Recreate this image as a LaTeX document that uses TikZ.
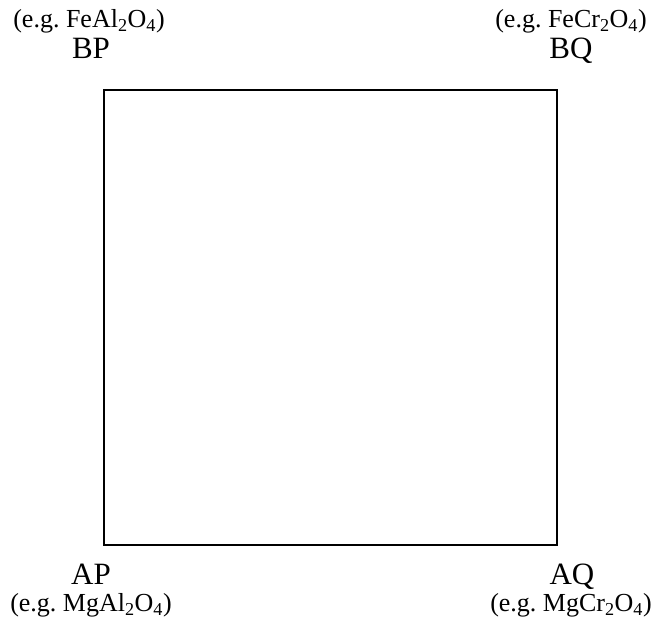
\documentclass[tikz,border=0pt]{standalone}
\usepackage{fontspec}
\setmainfont{Liberation Serif}
\begin{document}
\begin{tikzpicture}[x=1pt,y=1pt,
  eg/.style={anchor=base,inner sep=0pt,font=\fontsize{26}{30}\selectfont},
  corner/.style={anchor=base,inner sep=0pt,font=\fontsize{31}{36}\selectfont},
  box/.style={draw,line width=1.6pt}]
\useasboundingbox (0,0) rectangle (654,623);
\node[box,minimum width=453pt,minimum height=455pt,inner sep=0pt] (sq) at (330.5,305.5) {};
\node[eg] (egBP) at (89,595) {(e.g.\ FeAl\textsubscript{2}O\textsubscript{4})};
\node[corner] (BP) at (91,564) {BP};
\node[eg] (egBQ) at (571,595) {(e.g.\ FeCr\textsubscript{2}O\textsubscript{4})};
\node[corner] (BQ) at (571,564) {BQ};
\node[corner] (AP) at (91,38) {AP};
\node[eg] (egAP) at (91,11) {(e.g.\ MgAl\textsubscript{2}O\textsubscript{4})};
\node[corner] (AQ) at (572,38) {AQ};
\node[eg] (egAQ) at (571,11) {(e.g.\ MgCr\textsubscript{2}O\textsubscript{4})};
\end{tikzpicture}
\end{document}
